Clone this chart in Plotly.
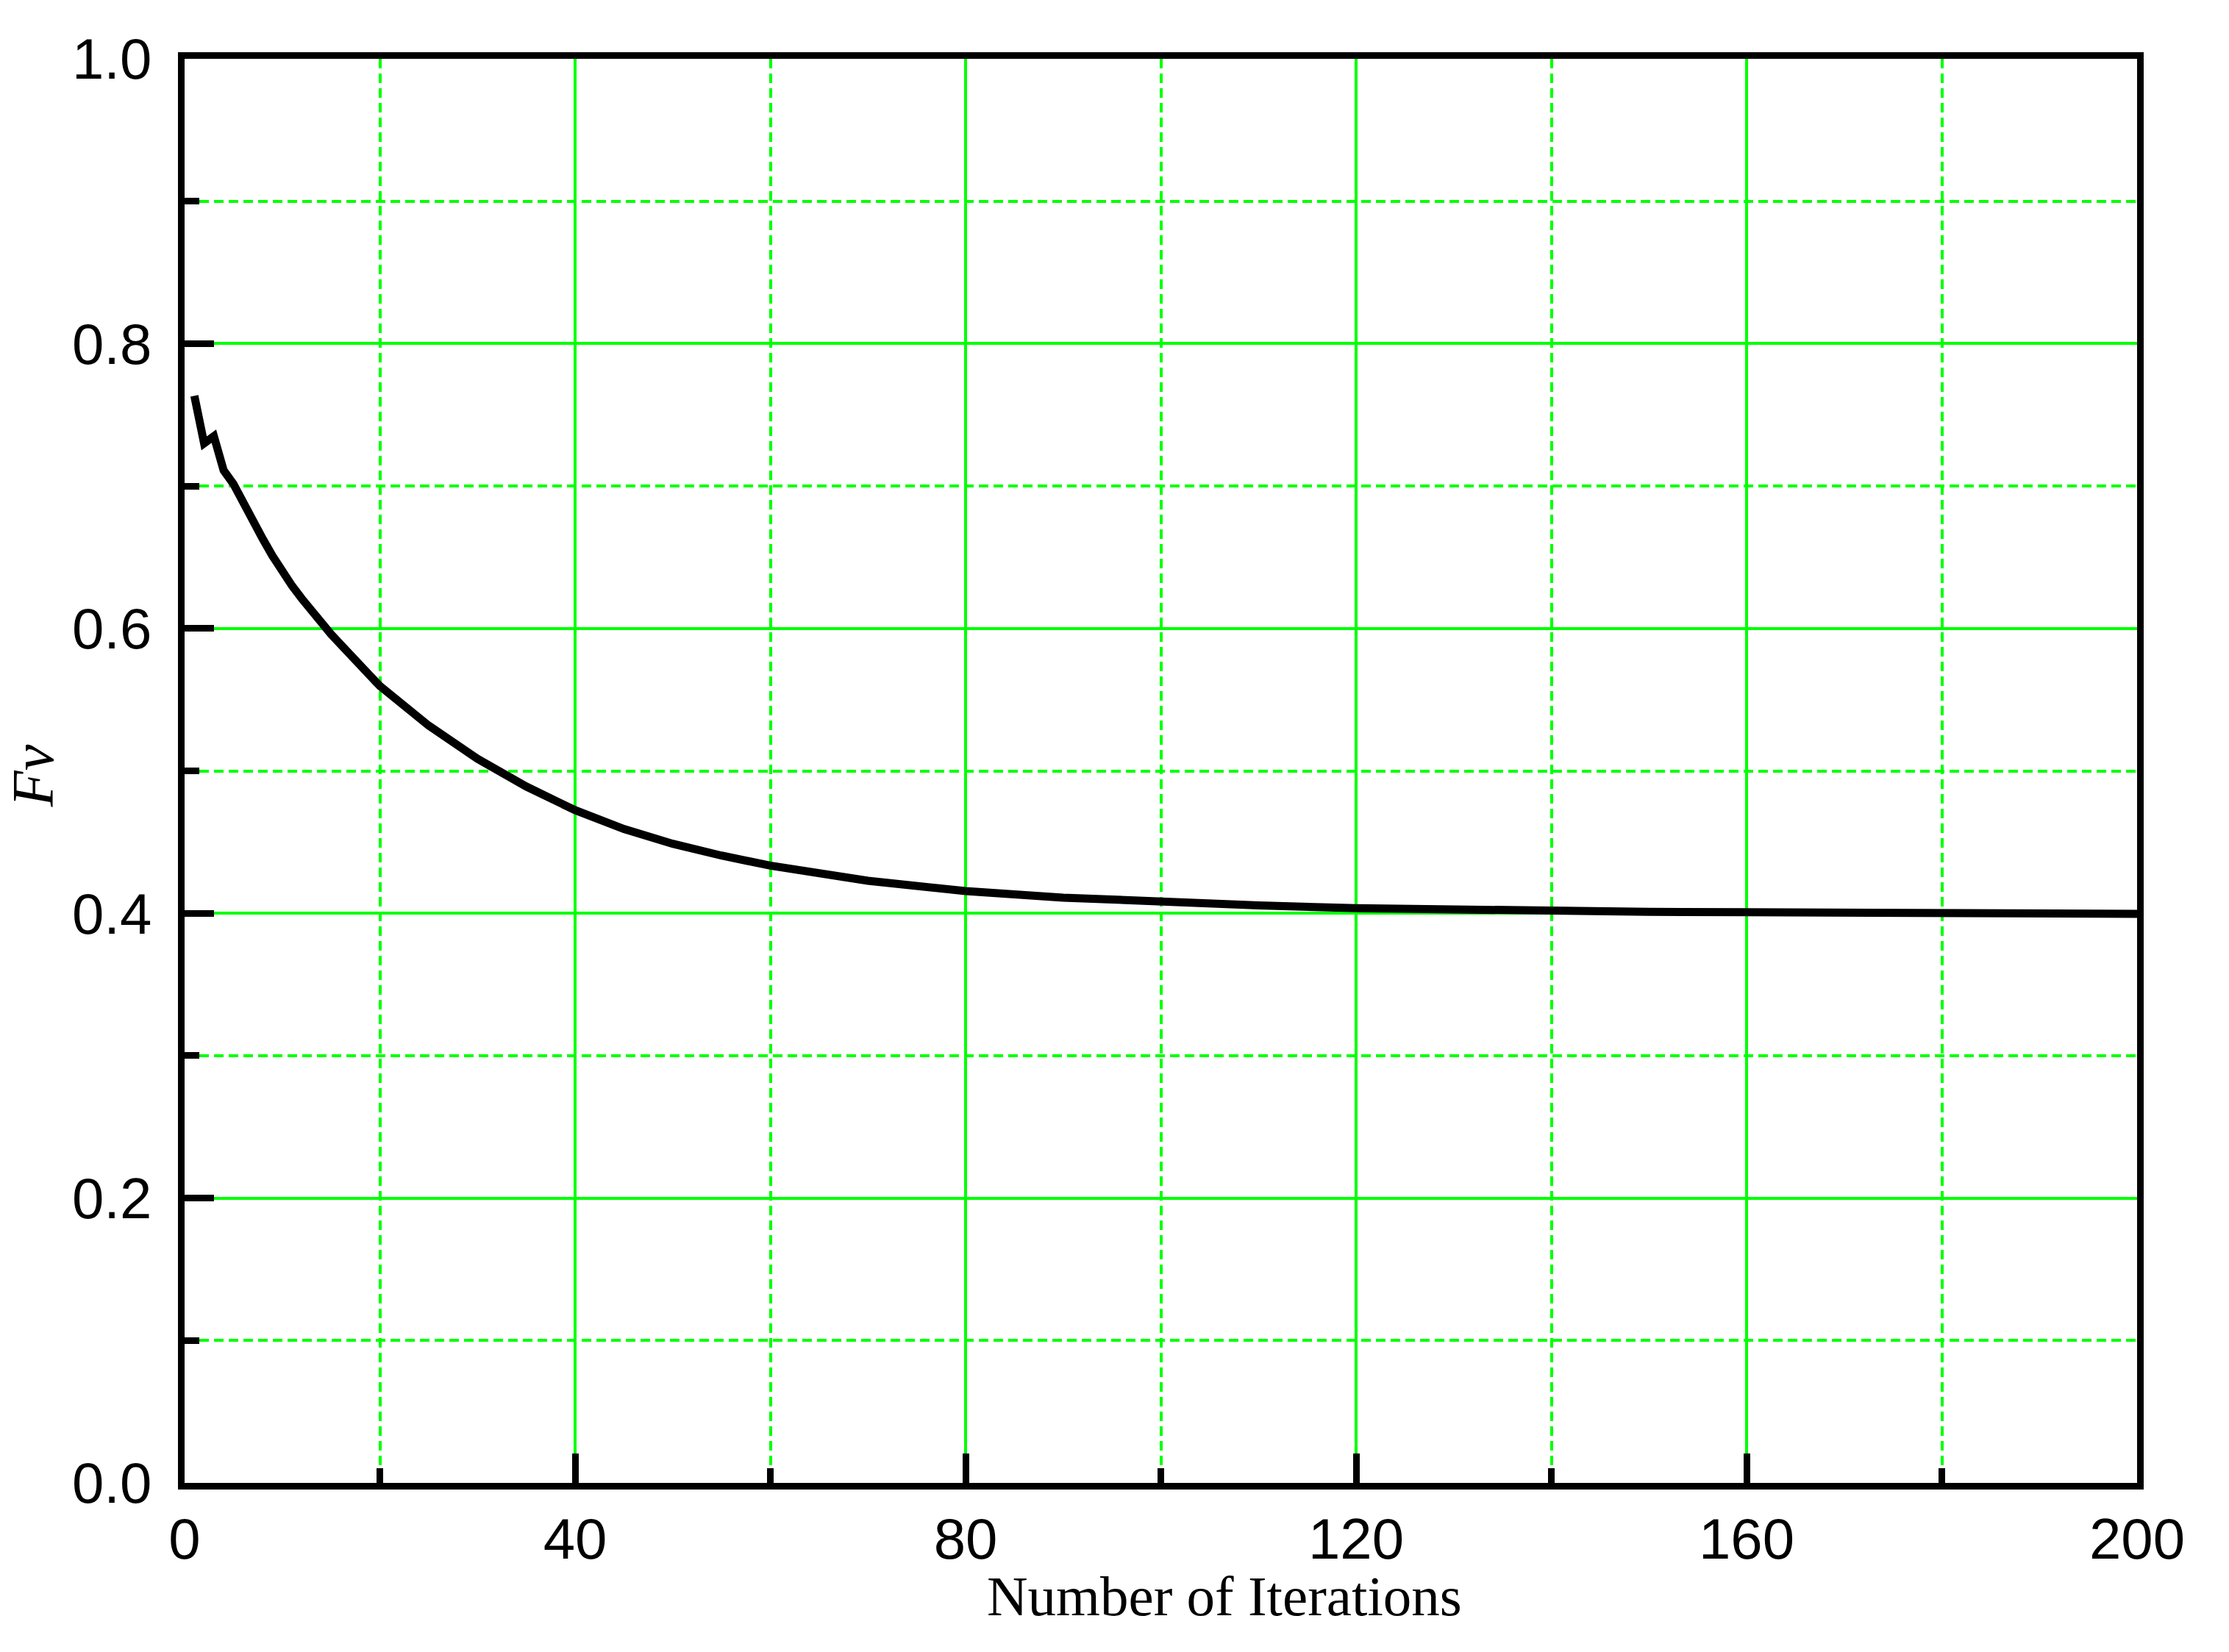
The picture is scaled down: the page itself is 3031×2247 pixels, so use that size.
import plotly.graph_objects as go

# convergence of Fv against iteration count
iterations = [1, 2, 3, 4, 5, 6, 7, 8, 9, 10, 11, 12, 13, 14, 15, 16, 18, 20, 25, 30,
              35, 40, 45, 50, 55, 60, 70, 80, 90, 100, 110, 120, 130, 140, 150, 160,
              170, 180, 190, 200]
fv = [0.7634, 0.730, 0.735, 0.711, 0.7015, 0.688, 0.6755, 0.663, 0.651, 0.640,
      0.630, 0.621, 0.612, 0.6035, 0.596, 0.5887, 0.5735, 0.5596, 0.5318, 0.5085,
      0.489, 0.4724, 0.4592, 0.4488, 0.4405, 0.4335, 0.4228, 0.4156, 0.4110, 0.4077,
      0.4055, 0.4036, 0.4025, 0.4016, 0.4010, 0.4007, 0.4005, 0.4003, 0.4000, 0.3996]

x_ticks = [0, 40, 80, 120, 160, 200]
y_ticks = [0.0, 0.2, 0.4, 0.6, 0.8, 1.0]

GREEN = "#00FF00"
tick_font = dict(family="Liberation Sans, Arial, sans-serif", size=78, color="black")
serif = "Liberation Serif, Times New Roman, serif"

fig = go.Figure(
    go.Scatter(
        x=iterations, y=fv, mode="lines",
        line=dict(color="black", width=11),
        showlegend=False,
    )
)

axis_common = dict(
    showline=True, linecolor="black", linewidth=9, mirror=True,
    ticks="inside", ticklen=40, tickwidth=9, tickcolor="black",
    showgrid=True, gridcolor=GREEN, gridwidth=4,
    zeroline=False, tickfont=tick_font,
)
minor_common = dict(ticklen=20, tickwidth=9, tickcolor="black", ticks="inside",
                    showgrid=True, gridcolor=GREEN, gridwidth=4, griddash="13px,7px")

fig.update_xaxes(
    range=[0, 200], tickvals=x_ticks, ticklabelstandoff=0,
    minor=dict(dtick=20, **minor_common),
    **axis_common,
)
fig.update_yaxes(
    range=[0, 1.0], tickvals=y_ticks, tickformat=".1f", ticklabelstandoff=20,
    minor=dict(dtick=0.1, **minor_common),
    **axis_common,
)

fig.add_annotation(
    text="Number of Iterations", xref="paper", yref="paper",
    x=0.5326, y=-0.0795, showarrow=False,
    font=dict(family=serif, size=77, color="black"),
    xanchor="center", yanchor="middle",
)
fig.add_annotation(
    text="<i>Fv</i>", xref="paper", yref="paper",
    x=-0.0775, y=0.4967, showarrow=False, textangle=-90,
    font=dict(family=serif, size=80, color="black"),
    xanchor="center", yanchor="middle",
)

# page body has an 8px margin, so the figure is drawn 8px in from the corner
fig.update_layout(
    width=3015, height=2231,
    margin=dict(l=243, r=117, t=72, b=222),
    paper_bgcolor="white", plot_bgcolor="white",
)

fig.write_html("out.html")
